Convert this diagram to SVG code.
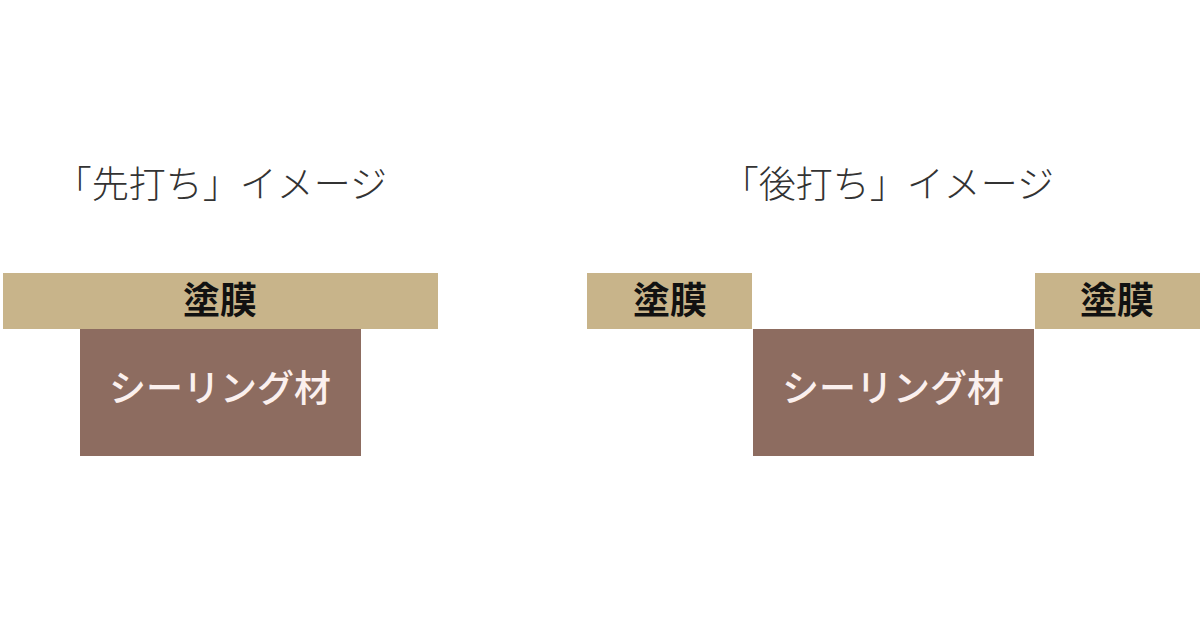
<svg xmlns="http://www.w3.org/2000/svg" width="1200" height="630" viewBox="0 0 1200 630">
<style>
.title{font-family:"Noto Sans CJK JP","Noto Sans",sans-serif;font-size:37px;fill:#333;font-weight:300}
.coat{fill:#c8b48a}
.seal{fill:#8d6c60}
.ct{font-family:"Noto Sans CJK JP",sans-serif;font-size:37px;font-weight:700;fill:#111}
.st{font-family:"Noto Sans CJK JP",sans-serif;font-size:37px;font-weight:500;fill:#fbf0ee}
</style>
<rect width="1200" height="630" fill="#fff"/>
<text class="title" x="221" y="198" text-anchor="middle">「先打ち」イメージ</text>
<text class="title" x="888" y="198" text-anchor="middle">「後打ち」イメージ</text>
<g id="left-sealant"><rect class="seal" x="80" y="329" width="281" height="127"/><text class="st" x="220" y="402" text-anchor="middle">シーリング材</text></g>
<g id="left-coating"><rect class="coat" x="3" y="273" width="435" height="56"/><text class="ct" x="220" y="314" text-anchor="middle">塗膜</text></g>
<g id="right-sealant"><rect class="seal" x="753" y="329" width="281" height="127"/><text class="st" x="893" y="402" text-anchor="middle">シーリング材</text></g>
<g id="right-coating-l"><rect class="coat" x="587" y="273" width="165" height="56"/><text class="ct" x="670" y="314" text-anchor="middle">塗膜</text></g>
<g id="right-coating-r"><rect class="coat" x="1035" y="273" width="165" height="56"/><text class="ct" x="1117" y="314" text-anchor="middle">塗膜</text></g>
<g id="connectors"/>
</svg>
